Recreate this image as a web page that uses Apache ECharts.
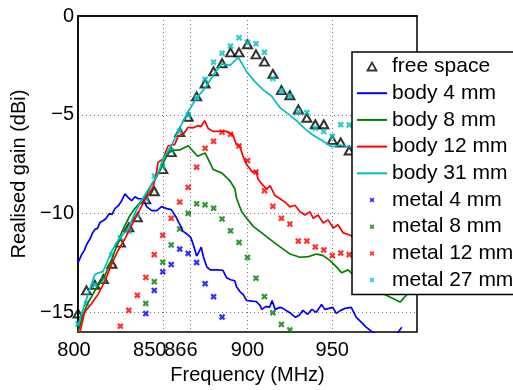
<!DOCTYPE html>
<html><head><meta charset="utf-8">
<script src="https://cdn.jsdelivr.net/npm/echarts@6/dist/echarts.min.js"></script>
<style>html,body{margin:0;padding:0;background:#fff}#c{width:513px;height:390px}</style>
</head><body><div id="c"></div>
<script>
// ---- data ----
const markerFreq = [800,805,810,815,820,825,830,835,840,845,850,855,860,865,870,875,880,885,890,895,900,905,910,915,920,925,930,935,940,945,950,955,960];
const freeSpace = [-15.06,-13.89,-13.61,-13.32,-12.54,-11.47,-10.70,-10.19,-9.28,-8.87,-7.75,-6.89,-5.88,-5.10,-4.07,-3.42,-2.80,-2.39,-1.84,-1.84,-1.43,-1.94,-2.31,-2.93,-3.75,-4.01,-4.73,-5.15,-5.48,-5.48,-6.27,-6.40,-6.81];
const metal27 = [-15.59,-14.55,-13.61,-13.37,-12.08,-11.23,-10.90,-10.07,-9.25,-8.1,-7.6,-6.8,-5.84,-5.02,-4.15,-3.21,-2.34,-1.89,-1.52,-1.10,-1.33,-1.40,-1.84,-3.16,-3.8,-4.05,-4.85,-4.89,-5.68,-5.84,-6.09,-5.50,-5.52];
const metal12Freq = [825,830,835,840,845,850,855,860,865,870,875,880,885,890,895,900,905,910,915,920,925,930,935,940,945,950,955,960];
const metal12 = [-15.7,-14.9,-14.14,-13.23,-12.08,-11.1,-10.24,-9.42,-8.68,-7.65,-6.70,-6.34,-5.88,-5.99,-6.58,-7.32,-7.90,-8.84,-9.63,-10.24,-10.53,-11.39,-11.39,-11.69,-11.84,-12.13,-12.0,-12.08];
const metal8Freq = [835,840,845,850,855,860,865,870,875,880,885,890,895,900,905,910,915,920,925];
const metal8 = [-16.03,-14.55,-13.45,-12.46,-11.59,-10.78,-9.99,-9.5,-9.56,-9.73,-10.27,-10.87,-11.46,-12.22,-13.27,-14.2,-15.02,-15.61,-15.89];
const metal4Freq = [840,845,850,855,860,865,870,875,880,885];
const metal4 = [-15.06,-13.89,-12.95,-12.58,-11.8,-12.02,-12.48,-13.55,-14.21,-15.24];

const body4 = [[800,-12.5],[802,-12.1],[803.5,-11.9],[805.5,-11.5],[807,-11.3],[808.5,-11.0],[810,-10.8],[811.5,-10.75],[813,-10.45],[815,-10.35],[816.5,-10.25],[818.5,-10.0],[820,-10.05],[821.8,-9.75],[823.8,-9.6],[825.8,-9.35],[827.7,-9.0],[829.7,-9.2],[831.7,-9.35],[833.6,-9.15],[835.6,-9.25],[838.5,-9.25],[840.5,-9.65],[843.5,-9.85],[846.5,-9.85],[849.3,-9.65],[852.3,-9.75],[855,-9.8],[858,-10.2],[860,-10.55],[862,-10.9],[864.5,-11.05],[866.5,-11.2],[868.5,-11.7],[870,-12.15],[871.3,-11.95],[872.7,-11.7],[874,-12.2],[876,-12.7],[878,-12.85],[882,-12.85],[885.5,-12.87],[887.7,-13.25],[890,-13.35],[892.5,-13.4],[893.5,-13.7],[895.5,-13.95],[897.5,-14.1],[899.5,-14.4],[902.5,-14.43],[905,-14.45],[907.4,-14.65],[908.4,-14.85],[911,-14.7],[913,-14.75],[914.5,-14.4],[916.3,-14.85],[919.2,-14.75],[921,-14.8],[923.5,-14.95],[925.5,-15.05],[928.3,-15.25],[930.5,-15.15],[932.7,-14.9],[935.5,-15.1],[938,-14.85],[940.5,-15.0],[943.7,-14.6],[945.6,-14.85],[948,-14.8],[950.3,-14.75],[952.4,-15.05],[955,-14.9],[957.5,-14.8],[961.2,-14.75],[964.2,-15.25],[967.1,-15.5],[970,-15.75],[973,-15.95],[976,-16.1],[980,-16.3],[986,-16.2],[989,-16.0],[991,-15.75]];
const body8 = [[800,-16.0],[803,-15.1],[806,-14.5],[810,-13.9],[813,-13.5],[816,-13.1],[820,-12.3],[823,-11.6],[826,-10.9],[830,-10.2],[833,-9.8],[836,-9.5],[840,-9.1],[843,-8.6],[846,-8.2],[850,-7.5],[853,-6.95],[856,-6.8],[860,-6.78],[865,-6.57],[869,-6.95],[870.5,-7.1],[875,-6.93],[879.8,-7.77],[884.8,-7.94],[889.7,-8.35],[892.6,-8.76],[893.6,-9.25],[896.6,-9.91],[899.5,-10.24],[903.4,-10.65],[908.4,-10.98],[913.3,-11.31],[917.2,-11.56],[921.1,-11.80],[925.1,-12.05],[931,-12.21],[935.9,-12.18],[940.8,-12.05],[944.7,-12.13],[948.7,-12.38],[952.6,-12.71],[955.6,-13.0],[959.3,-12.85],[965,-13.3],[972.3,-13.69],[981,-14.1],[990,-14.48],[994.9,-14.02]];
const body12 = [[800,-16.3],[801,-16.06],[803.9,-15.0],[807.8,-14.58],[811.8,-14.09],[815.8,-13.43],[819.6,-12.61],[823.6,-11.87],[827.6,-11.29],[831.4,-10.63],[835.4,-9.98],[839.4,-9.32],[844.2,-8.66],[846,-8.1],[847.2,-7.41],[850.1,-7.24],[853.1,-6.58],[857.1,-6.50],[859,-6.09],[862.5,-5.93],[865,-5.63],[868,-5.66],[871,-5.55],[872.5,-5.6],[874.7,-5.30],[876.7,-5.68],[879.6,-5.84],[883.6,-5.84],[887.5,-5.84],[891.4,-6.01],[893.4,-6.5],[895.5,-6.6],[897.3,-7.08],[899.3,-7.49],[902.8,-7.90],[905.2,-7.87],[906.2,-8.25],[908.4,-8.5],[911.3,-8.76],[913.3,-8.59],[916.2,-9.09],[919.2,-9.25],[922.1,-9.42],[925.1,-9.66],[928,-9.58],[931,-9.91],[933.9,-10.07],[936.9,-9.91],[938.8,-10.24],[941.6,-10.07],[944.7,-10.48],[947.5,-10.32],[950.6,-10.73],[953.4,-10.57],[956.5,-10.98],[959.5,-11.06],[963,-11.2]];
const body31 = [[800,-15.7],[802,-15.1],[805.9,-14.09],[809.9,-13.10],[812,-13.0],[814.7,-12.94],[817,-12.5],[819.6,-11.95],[822.5,-11.5],[825.5,-11.13],[829.5,-10.80],[833.5,-9.98],[838.3,-9.23],[842.3,-8.66],[847.2,-8.0],[850.1,-7.24],[855,-6.58],[860,-5.68],[864.9,-4.85],[870,-4.15],[874.9,-3.65],[879.8,-3.0],[884.8,-2.42],[889.7,-2.50],[894.6,-2.09],[899.5,-2.83],[904.4,-3.32],[909.3,-3.74],[914.3,-4.06],[919.2,-4.64],[924.1,-4.97],[929,-5.30],[933.9,-5.71],[938.8,-6.04],[943.8,-6.29],[949.7,-6.62],[954.6,-6.53],[960.5,-6.62],[965,-6.8]];

const xTicks = [800,850,866,900,950];
const yTicks = [0,-5,-10,-15];
const seriesNames = ['free space','body 4 mm','body 8 mm','body 12 mm','body 31 mm','metal 4 mm','metal 8 mm','metal 12 mm','metal 27 mm'];

// ---- styling ----
const FONT = '"Liberation Sans", Arial, Helvetica, sans-serif';
const C = {blue:'#0000FF', green:'#008000', red:'#FF0000', cyan:'#00BFBF'};
const X_SYM = 'path://M0,2.5L2.5,0L5,2.5L7.5,0L10,2.5L7.5,5L10,7.5L7.5,10L5,7.5L2.5,10L0,7.5L2.5,5Z';
const X_LEG = 'path://M-3,-3L-2.99,-3M13,13L13.01,13M0,2.5L2.5,0L5,2.5L7.5,0L10,2.5L7.5,5L10,7.5L7.5,10L5,7.5L2.5,10L0,7.5L2.5,5Z';
const TRI_LEG = 'path://M0,9L5,0L10,9Z';
const zip = (xs, ys) => xs.map((x, i) => [x, ys[i]]);
const minus = v => String(v).replace('-', '\u2212');
const xLabelShift = {800: 8, 850: 26, 866: 18};

const lineS = (name, data, color) => ({
  name, type:'line', data, symbol:'none', showSymbol:false,
  lineStyle:{color, width:1.7}, itemStyle:{color}, emphasis:{disabled:true}, animation:false
});
const xS = (name, data, color) => ({
  name, type:'scatter', data, symbol:X_SYM, symbolSize:6.5,
  itemStyle:{color}, emphasis:{disabled:true}, animation:false
});
const lineLeg = name => ({name, itemStyle:{color:'rgba(0,0,0,0)', borderWidth:0, opacity:0}});

const rich = {};
Object.keys(xLabelShift).forEach(k => { rich['s'+k] = {padding:[0, xLabelShift[k], 0, 0], fontSize:20, fontFamily:FONT, color:'#000'}; });

const chart = echarts.init(document.getElementById('c'), null, {renderer:'canvas'});
chart.setOption({
  animation:false,
  backgroundColor:'#fff',
  textStyle:{fontFamily:FONT},
  grid:{left:78, top:16, right:96, bottom:50, show:true, borderColor:'#000', borderWidth:1.5, backgroundColor:'transparent'},
  xAxis:{
    type:'value', min:800, max:1000,
    name:'Frequency (MHz)', nameLocation:'middle', nameGap:27,
    nameTextStyle:{fontSize:20, color:'#000', fontFamily:FONT},
    axisLine:{lineStyle:{color:'#000', width:1.5}},
    axisTick:{show:false, customValues:xTicks},
    axisLabel:{customValues:xTicks, fontSize:20, color:'#000', fontFamily:FONT, margin:8, rich,
      formatter: v => xLabelShift[v] !== undefined ? '{s'+v+'|'+v+'}' : String(v)},
    splitLine:{show:true, lineStyle:{color:'#777', width:1, type:[1,3]}}
  },
  yAxis:{
    type:'value', min:-16, max:0,
    name:'Realised gain (dBi)', nameLocation:'middle', nameGap:33,
    nameTextStyle:{fontSize:20, color:'#000', fontFamily:FONT},
    axisLine:{lineStyle:{color:'#000', width:1.5}},
    axisTick:{show:false, customValues:yTicks},
    axisLabel:{customValues:yTicks, fontSize:20, color:'#000', fontFamily:FONT, margin:4, formatter:minus},
    splitLine:{show:true, lineStyle:{color:'#777', width:1, type:[1,3]}}
  },
  legend:{
    orient:'vertical', left:352, top:52, padding:[4,4,4,4],
    itemWidth:30, itemHeight:8, itemGap:5.7, selectedMode:false, symbolKeepAspect:true,
    backgroundColor:'#fff', borderColor:'#000', borderWidth:1.5, borderRadius:0,
    textStyle:{fontSize:21, color:'#000', fontFamily:FONT},
    data:[
      {name:seriesNames[0], icon:TRI_LEG, itemStyle:{color:'rgba(0,0,0,0)', borderColor:'#000', borderWidth:1.8}},
      lineLeg(seriesNames[1]), lineLeg(seriesNames[2]), lineLeg(seriesNames[3]), lineLeg(seriesNames[4]),
      {name:seriesNames[5], icon:X_LEG},{name:seriesNames[6], icon:X_LEG},
      {name:seriesNames[7], icon:X_LEG},{name:seriesNames[8], icon:X_LEG}
    ]
  },
  series:[
    {name:seriesNames[0], type:'scatter', data:zip(markerFreq, freeSpace), symbol:'triangle', symbolSize:[9,8],
      itemStyle:{color:'rgba(0,0,0,0)', borderColor:'#000', borderWidth:2}, emphasis:{disabled:true}, animation:false},
    lineS(seriesNames[1], body4, C.blue),
    lineS(seriesNames[2], body8, C.green),
    lineS(seriesNames[3], body12, C.red),
    lineS(seriesNames[4], body31, C.cyan),
    xS(seriesNames[5], zip(metal4Freq, metal4), C.blue),
    xS(seriesNames[6], zip(metal8Freq, metal8), C.green),
    xS(seriesNames[7], zip(metal12Freq, metal12), C.red),
    xS(seriesNames[8], zip(markerFreq, metal27), C.cyan)
  ]
});
</script></body></html>
